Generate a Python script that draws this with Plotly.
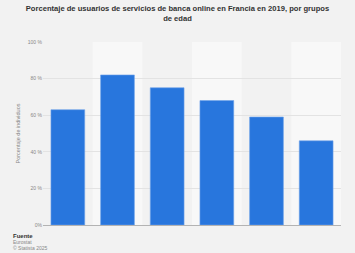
import plotly.graph_objects as go

categories = ["16-24 años", "25-34 años", "35-44 años", "45-54 años", "55-64 años", "65-74 años"]
values = [63, 82, 75, 68, 59, 46]
y_ticks = [0, 20, 40, 60, 80, 100]
y_tick_labels = ["0%", "20 %", "40 %", "60 %", "80 %", "100 %"]

fig = go.Figure()
fig.add_trace(go.Bar(
    x=categories, y=values,
    marker=dict(color="#2876dd", line=dict(color="#6fa3ea", width=0.6)),
    width=0.68,
))

shapes = []
for i in range(len(categories)):
    if i % 2 == 1:
        shapes.append(dict(type="rect", xref="x", yref="paper", x0=i - 0.5, x1=i + 0.5,
                           y0=0, y1=1, fillcolor="#f8f8f8", line=dict(width=0), layer="below"))
fig.update_layout(
    width=355, height=253,
    margin=dict(l=43, r=14, t=42, b=28),
    paper_bgcolor="#f2f2f2", plot_bgcolor="#f2f2f2",
    shapes=shapes,
    showlegend=False,
    font=dict(family="Liberation Sans, Arial", color="#666666"),
    title=dict(
        text="<b>Porcentaje de usuarios de servicios de banca online en Francia en 2019, por grupos<br>de edad</b>",
        x=0.5, xanchor="center", y=0.955, yanchor="top",
        font=dict(size=7.6, color="#333333"),
    ),
    xaxis=dict(showticklabels=False, showgrid=False, ticks="", showline=True,
               linecolor="#b3b3b3", linewidth=1, range=[-0.5, 5.5]),
    yaxis=dict(range=[0, 100], tickvals=y_ticks, ticktext=y_tick_labels,
               tickfont=dict(size=5, color="#888888"), showgrid=True,
               gridcolor="#e3e3e3", gridwidth=0.6, zeroline=False, ticks="",
               title=dict(text="Porcentaje de individuos", font=dict(size=5.5, color="#888888"), standoff=6)),
    bargap=0.32,
)

fx = (11 - 43) / 298
fig.add_annotation(text="<b>Fuente</b>", xref="paper", yref="paper", x=fx, y=-11/183,
                   xanchor="left", yanchor="middle", showarrow=False,
                   font=dict(size=6, color="#333333"))
fig.add_annotation(text="Eurostat", xref="paper", yref="paper", x=fx, y=-17/183,
                   xanchor="left", yanchor="middle", showarrow=False,
                   font=dict(size=5, color="#888888"))
fig.add_annotation(text="© Statista 2025", xref="paper", yref="paper", x=fx, y=-23/183,
                   xanchor="left", yanchor="middle", showarrow=False,
                   font=dict(size=5, color="#888888"))

fig.write_html("out.html")
